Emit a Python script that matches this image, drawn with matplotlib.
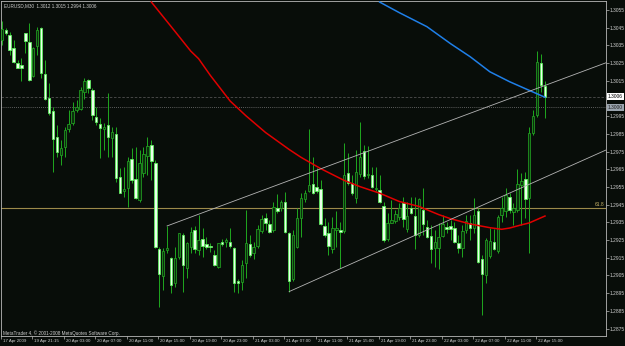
import matplotlib
matplotlib.use('Agg')
import matplotlib.pyplot as plt
import matplotlib.transforms as mtransforms
import numpy as np

# MetaTrader "green on black" colours
BG = '#080d09'
WICK = '#1fa81f'
BULL_FACE = '#0b2e0d'
BULL_EDGE = '#22a322'
BEAR_FACE = '#eaffea'
BEAR_EDGE = '#5cf55c'
TXT = '#d0d0d0'
FRAME = '#b8b8b8'

plt.rcParams.update({
    'font.family': ['Liberation Sans', 'DejaVu Sans'],
    'axes.unicode_minus': False,
})

# EURUSD M30 candles
opens = [
    1.30381, 1.30437, 1.30409, 1.30337, 1.30249, 1.30237, 1.30418, 1.30367, 1.30177, 1.30349,
    1.30450, 1.30188, 1.30055, 1.29979, 1.29831, 1.29731, 1.29778, 1.29876, 1.29910, 1.29985,
    1.29989, 1.30089, 1.30155, 1.30098, 1.29947, 1.29906, 1.29876, 1.29899, 1.29829, 1.29850,
    1.29609, 1.29529, 1.29543, 1.29706, 1.29595, 1.29477, 1.29627, 1.29725, 1.29787, 1.29684,
    1.29198, 1.29047, 1.29194, 1.29147, 1.29006, 1.29157, 1.29277, 1.29091, 1.29213, 1.29307,
    1.29194, 1.29256, 1.29226, 1.29217, 1.29166, 1.29096, 1.29241, 1.29239, 1.29238, 1.29207,
    1.29019, 1.29015, 1.29119, 1.29226, 1.29179, 1.29219, 1.29302, 1.29377, 1.29341, 1.29307,
    1.29430, 1.29430, 1.29464, 1.29288, 1.29029, 1.29213, 1.29373, 1.29480, 1.29529, 1.29565,
    1.29548, 1.29537, 1.29330, 1.29288, 1.29198, 1.29307, 1.29307, 1.29302, 1.29627, 1.29571,
    1.29486, 1.29622, 1.29755, 1.29616, 1.29618, 1.29537, 1.29533, 1.29445, 1.29255, 1.29349,
    1.29360, 1.29383, 1.29462, 1.29311, 1.29430, 1.29386, 1.29279, 1.29418, 1.29326, 1.29275,
    1.29204, 1.29204, 1.29273, 1.29326, 1.29330, 1.29317, 1.29232, 1.29204, 1.29307, 1.29349,
    1.29317, 1.29416, 1.29142, 1.29053, 1.29160, 1.29238, 1.29191, 1.29392, 1.29416, 1.29496,
    1.29411, 1.29420, 1.29561, 1.29595, 1.29486, 1.29857, 1.29957, 1.30252, 1.30120,
]
highs = [
    1.30490, 1.30446, 1.30428, 1.30381, 1.30268, 1.30277, 1.30418, 1.30475, 1.30343, 1.30456,
    1.30456, 1.30268, 1.30136, 1.30004, 1.29900, 1.29816, 1.29891, 1.29985, 1.30032, 1.30042,
    1.30117, 1.30164, 1.30160, 1.30108, 1.30004, 1.29938, 1.29910, 1.30079, 1.29891, 1.29891,
    1.29656, 1.29665, 1.29721, 1.29769, 1.29778, 1.29759, 1.29778, 1.29835, 1.29816, 1.29703,
    1.29213, 1.29204, 1.29330, 1.29157, 1.29213, 1.29292, 1.29288, 1.29241, 1.29326, 1.29330,
    1.29392, 1.29317, 1.29266, 1.29232, 1.29194, 1.29236, 1.29255, 1.29260, 1.29317, 1.29213,
    1.29029, 1.29138, 1.29420, 1.29279, 1.29241, 1.29335, 1.29392, 1.29401, 1.29364, 1.29467,
    1.29509, 1.29477, 1.29524, 1.29298, 1.29307, 1.29430, 1.29514, 1.29533, 1.29876, 1.29721,
    1.29656, 1.29590, 1.29373, 1.29354, 1.29383, 1.29416, 1.29354, 1.29797, 1.29740, 1.29618,
    1.29759, 1.29915, 1.29787, 1.29782, 1.29661, 1.29665, 1.29618, 1.29467, 1.29401, 1.29477,
    1.29420, 1.29458, 1.29496, 1.29467, 1.29496, 1.29496, 1.29486, 1.29546, 1.29364, 1.29335,
    1.29307, 1.29345, 1.29392, 1.29354, 1.29364, 1.29354, 1.29279, 1.29335, 1.29392, 1.29392,
    1.29486, 1.29430, 1.29166, 1.29260, 1.29317, 1.29311, 1.29392, 1.29496, 1.29543, 1.29514,
    1.29458, 1.29650, 1.29627, 1.29633, 1.29891, 1.29985, 1.30320, 1.30301, 1.30150,
]
lows = [
    1.30352, 1.30409, 1.30296, 1.30249, 1.30221, 1.30149, 1.30305, 1.30151, 1.30174, 1.30296,
    1.30168, 1.30042, 1.29957, 1.29637, 1.29721, 1.29674, 1.29721, 1.29863, 1.29900, 1.29976,
    1.29985, 1.30045, 1.30079, 1.29929, 1.29900, 1.29712, 1.29759, 1.29721, 1.29721, 1.29580,
    1.29514, 1.29496, 1.29439, 1.29571, 1.29480, 1.29467, 1.29609, 1.29618, 1.29590, 1.29204,
    1.28874, 1.28968, 1.29175, 1.28950, 1.28987, 1.29142, 1.28959, 1.29034, 1.29175, 1.29175,
    1.29166, 1.29157, 1.29198, 1.29185, 1.29106, 1.29091, 1.29217, 1.29213, 1.29204, 1.28959,
    1.28950, 1.28968, 1.29034, 1.29157, 1.29142, 1.29204, 1.29288, 1.29307, 1.29288, 1.29298,
    1.29401, 1.29416, 1.29288, 1.28959, 1.29021, 1.29204, 1.29270, 1.29467, 1.29524, 1.29511,
    1.29514, 1.29335, 1.29270, 1.29166, 1.29175, 1.29213, 1.29091, 1.29288, 1.29561, 1.29505,
    1.29458, 1.29609, 1.29593, 1.29599, 1.29543, 1.29529, 1.29458, 1.29241, 1.29247, 1.29345,
    1.29345, 1.29364, 1.29326, 1.29298, 1.29398, 1.29198, 1.29270, 1.29279, 1.29260, 1.29119,
    1.29100, 1.29085, 1.29266, 1.29288, 1.29251, 1.29232, 1.29175, 1.29157, 1.29288, 1.29251,
    1.29288, 1.29119, 1.28827, 1.29006, 1.29147, 1.29194, 1.29175, 1.29354, 1.29383, 1.29401,
    1.29335, 1.29411, 1.29335, 1.29373, 1.29179, 1.29844, 1.29947, 1.30089, 1.29940,
]
closes = [
    1.30441, 1.30418, 1.30324, 1.30254, 1.30224, 1.30224, 1.30375, 1.30155, 1.30337, 1.30437,
    1.30196, 1.30045, 1.29966, 1.29819, 1.29746, 1.29769, 1.29872, 1.29906, 1.29979, 1.30000,
    1.30098, 1.30151, 1.30108, 1.29957, 1.29919, 1.29885, 1.29891, 1.29835, 1.29859, 1.29599,
    1.29518, 1.29539, 1.29697, 1.29588, 1.29486, 1.29684, 1.29737, 1.29782, 1.29697, 1.29209,
    1.29059, 1.29191, 1.29204, 1.28997, 1.29147, 1.29288, 1.29110, 1.29232, 1.29298, 1.29198,
    1.29251, 1.29217, 1.29209, 1.29209, 1.29110, 1.29232, 1.29228, 1.29251, 1.29217, 1.29010,
    1.29010, 1.29110, 1.29236, 1.29166, 1.29213, 1.29311, 1.29369, 1.29349, 1.29298, 1.29435,
    1.29416, 1.29467, 1.29298, 1.29021, 1.29279, 1.29373, 1.29490, 1.29518, 1.29561, 1.29518,
    1.29528, 1.29341, 1.29279, 1.29219, 1.29317, 1.29317, 1.29294, 1.29618, 1.29575, 1.29518,
    1.29637, 1.29721, 1.29612, 1.29624, 1.29552, 1.29543, 1.29467, 1.29251, 1.29349, 1.29364,
    1.29396, 1.29430, 1.29369, 1.29388, 1.29401, 1.29279, 1.29480, 1.29341, 1.29270, 1.29198,
    1.29241, 1.29270, 1.29339, 1.29313, 1.29311, 1.29241, 1.29204, 1.29302, 1.29358, 1.29317,
    1.29392, 1.29128, 1.29059, 1.29251, 1.29247, 1.29198, 1.29379, 1.29430, 1.29505, 1.29420,
    1.29430, 1.29567, 1.29584, 1.29480, 1.29853, 1.29951, 1.30254, 1.30126, 1.30060,
]

# moving averages (bar index, price)
red_ma_bar = [38, 43, 48, 50, 53, 58, 62, 67, 73, 76, 81, 87, 91, 96, 101, 106,
              111, 114, 119, 124, 127, 129, 132, 134, 138]
red_ma = [1.30595, 1.30457, 1.30318, 1.30275, 1.30180, 1.30036, 1.29953, 1.29858,
          1.29762, 1.29718, 1.29654, 1.29587, 1.29552, 1.29515, 1.29468, 1.29440,
          1.29394, 1.29371, 1.29341, 1.29320, 1.29311, 1.29318, 1.29336, 1.29347, 1.29386]
blue_ma_bar = [96, 101, 108, 114, 119, 124, 129, 134, 138]
blue_ma = [1.30595, 1.30535, 1.30456, 1.30360, 1.30286, 1.30201, 1.30145, 1.30096, 1.30057]

# trendlines: anchor bar/price and price at right edge
upper_tl_bar = [42, 153.5]
upper_tl = [1.29330, 1.30252]
lower_tl_bar = [73, 153.5]
lower_tl = [1.28959, 1.29759]

fib_618 = 1.29430
bid = 1.3006
level_1300 = 1.3000

price_ticks = [1.3055, 1.3045, 1.3035, 1.3025, 1.3015, 1.2995, 1.2985, 1.2975,
               1.2965, 1.2955, 1.2945, 1.2935, 1.2925, 1.2915, 1.2905, 1.2895,
               1.2885, 1.2875]
time_labels = ['17 Apr 2009', '19 Apr 21:15', '20 Apr 03:00', '20 Apr 07:00',
               '20 Apr 11:00', '20 Apr 15:00', '20 Apr 19:00', '20 Apr 23:00',
               '21 Apr 03:00', '21 Apr 07:00', '21 Apr 11:00', '21 Apr 15:00',
               '21 Apr 19:00', '21 Apr 23:00', '22 Apr 03:00', '22 Apr 07:00',
               '22 Apr 11:00', '22 Apr 15:00']

o = np.array(opens)
h = np.array(highs)
l = np.array(lows)
c = np.array(closes)
x = np.arange(len(o))
up = c >= o

# --- Figure ---
W, H = 625, 346
fig = plt.figure(figsize=(W / 100, H / 100), dpi=100, facecolor=BG)
ax = fig.add_axes([1 / W, 10 / H, 605 / W, 335 / H])
ax.set_facecolor(BG)

# horizontal levels
ax.axhline(fib_618, color='#9c8a4a', lw=0.8, zorder=1)
ax.axhline(bid, color='#505050', lw=0.6, ls=(0, (3, 2)), zorder=1)
ax.axhline(level_1300, color='#7a7a7a', lw=0.6, ls=(0, (1, 1.5)), zorder=1)

# candles
ax.vlines(x, l, h, color=WICK, lw=0.7, zorder=2)
bw = 0.62
ax.bar(x[up], c[up] - o[up], bottom=o[up], width=bw,
       color=BULL_FACE, edgecolor=BULL_EDGE, linewidth=0.55, zorder=3)
ax.bar(x[~up], o[~up] - c[~up], bottom=c[~up], width=bw,
       color=BEAR_FACE, edgecolor=BEAR_EDGE, linewidth=0.55, zorder=3)

# moving averages
ax.plot(red_ma_bar, red_ma, color='#e00000', lw=1.1, zorder=4)
ax.plot(blue_ma_bar, blue_ma, color='#1f7fe8', lw=1.1, zorder=4)

# trendlines
ax.plot(upper_tl_bar, upper_tl, color='#b4b4b4', lw=0.6, zorder=4)
ax.plot(lower_tl_bar, lower_tl, color='#b4b4b4', lw=0.6, zorder=4)

ax.set_xlim(-0.18, 153.5)
ax.set_ylim(1.28708, 1.30601)

# frame
for sp in ax.spines.values():
    sp.set_color(FRAME)
    sp.set_linewidth(0.6)

# price scale on the right
ax.yaxis.tick_right()
ax.set_yticks(price_ticks)
ax.set_yticklabels([f'{p:.4f}' for p in price_ticks])
ax.tick_params(axis='y', length=2.2, width=0.5, color=FRAME, labelcolor=TXT,
               labelsize=3.5, pad=0.6, direction='out')

# time scale, labels start right of the tick
tick_bar = np.arange(len(time_labels)) * 8 - 0.2
ax.set_xticks(tick_bar)
ax.set_xticklabels(time_labels)
ax.tick_params(axis='x', length=2.0, width=0.5, color=FRAME, labelcolor=TXT,
               labelsize=3.2, pad=0.4, direction='out')
shift = mtransforms.ScaledTranslation(2 / 100, 0, fig.dpi_scale_trans)
for lbl in ax.get_xticklabels():
    lbl.set_horizontalalignment('left')
    lbl.set_transform(lbl.get_transform() + shift)

# price boxes on the scale
trans = mtransforms.blended_transform_factory(ax.transAxes, ax.transData)
box_shift = mtransforms.ScaledTranslation(1.8 / 100, 0, fig.dpi_scale_trans)
ax.text(1.0, bid, f'{bid:.4f}', transform=trans + box_shift, ha='left', va='center',
        fontsize=3.5, color='#000000', clip_on=False,
        bbox=dict(boxstyle='square,pad=0.2', fc='#ffffff', ec='none'))
ax.text(1.0, level_1300, f'{level_1300:.4f}', transform=trans + box_shift, ha='left',
        va='center', fontsize=3.5, color='#202020', clip_on=False,
        bbox=dict(boxstyle='square,pad=0.2', fc='#9aa4ae', ec='none'))

# fibo level label
lbl_shift = mtransforms.ScaledTranslation(-1.5 / 100, 1 / 100, fig.dpi_scale_trans)
ax.text(1.0, fib_618, '61.8', transform=trans + lbl_shift, ha='right', va='bottom',
        fontsize=3.5, color='#c8b468')

# header and copyright
fig.text(3.5 / W, 1 - 5.5 / H, 'EURUSD,M30  1.3012 1.3015 1.2994 1.3006',
         fontsize=3.3, color=TXT, va='center', ha='left')
fig.text(3 / W, 1 - 333 / H, 'MetaTrader 4, © 2001-2008 MetaQuotes Software Corp.',
         fontsize=3.3, color=TXT, va='center', ha='left')

fig.savefig('out.png', dpi=100, facecolor=BG)
plt.close(fig)
